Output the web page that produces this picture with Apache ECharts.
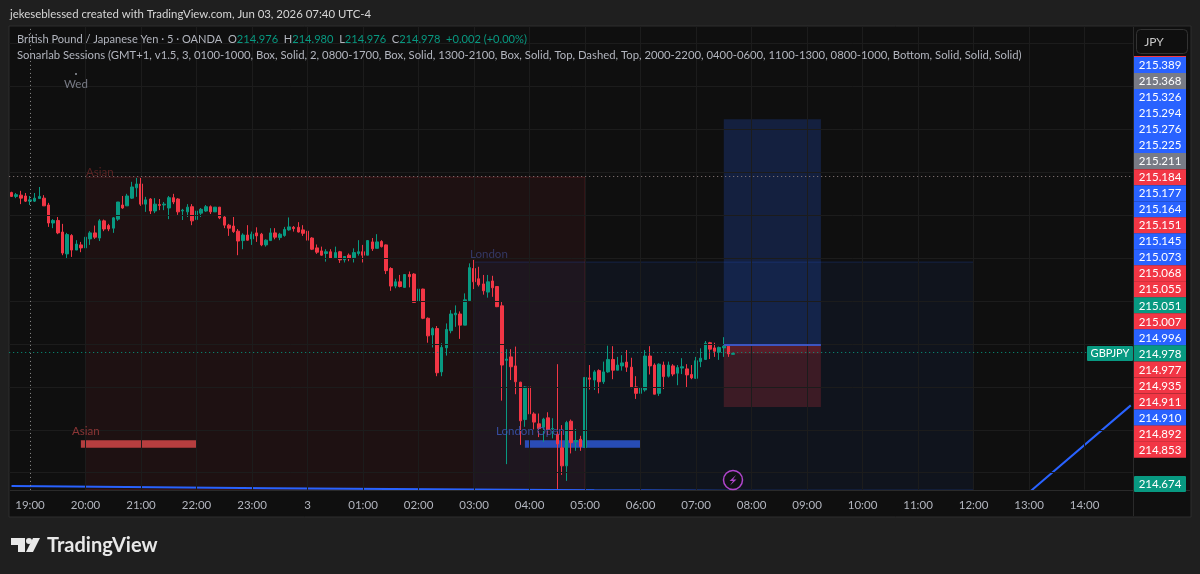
<!DOCTYPE html>
<html>
<head>
<meta charset="utf-8">
<title>GBPJPY</title>
<script src="https://cdn.jsdelivr.net/npm/echarts@6/dist/echarts.min.js"></script>
<style>
html, body { margin: 0; padding: 0; background: #1f1f1f; }
#main { width: 1200px; height: 574px; }
</style>
</head>
<body>
<div id="main"></div>
<script>
// 5 minute bars, 18:40 to 07:40
var opens = [
215.353,215.344,215.347,215.345,215.333,215.333,215.339,215.340,215.324,215.282,
215.288,215.261,215.210,215.253,215.219,215.231,215.224,215.245,215.259,215.247,
215.287,215.276,215.270,215.291,215.324,215.322,215.340,215.364,215.373,215.326,
215.338,215.310,215.325,215.324,215.317,215.341,215.338,215.310,215.308,215.320,
215.290,215.305,215.310,215.320,215.308,215.319,215.296,215.277,215.275,215.263,
215.241,215.254,215.245,215.259,215.256,215.231,215.241,215.259,215.248,215.253,
215.266,215.272,215.272,215.266,215.263,215.247,215.224,215.217,215.211,215.215,
215.201,215.215,215.196,215.207,215.201,215.211,215.215,215.207,215.238,215.223,
215.239,215.231,215.176,215.135,215.145,215.132,215.162,215.163,215.099,215.128,
215.060,215.021,215.036,214.935,214.991,215.031,215.068,215.070,215.044,215.101,
215.176,215.152,215.140,215.121,215.147,215.134,215.089,214.962,214.970,214.949,
214.911,214.824,214.900,214.837,214.814,214.806,214.828,214.802,214.790,214.758,
214.716,214.820,214.772,214.778,214.759,214.921,214.916,214.938,214.912,214.935,
214.964,214.939,214.949,214.958,214.946,214.900,214.885,214.893,214.972,214.951,
214.885,214.951,214.925,214.949,214.932,214.944,214.942,214.929,214.920,214.959,
214.964,215.003,214.991,214.981,214.991,214.995,214.976];
var closes = [
215.344,215.348,215.340,215.333,215.336,215.340,215.344,215.322,215.282,215.288,
215.259,215.212,215.255,215.219,215.233,215.224,215.249,215.259,215.249,215.287,
215.268,215.268,215.294,215.331,215.317,215.345,215.366,215.373,215.326,215.336,
215.310,215.326,215.323,215.326,215.341,215.331,215.308,215.312,215.319,215.287,
215.310,215.314,215.320,215.308,215.319,215.294,215.277,215.270,215.262,215.240,
215.254,215.242,215.256,215.252,215.231,215.242,215.259,215.249,215.256,215.267,
215.273,215.269,215.261,215.258,215.242,215.221,215.214,215.207,215.215,215.200,
215.213,215.196,215.204,215.199,215.213,215.215,215.207,215.241,215.222,215.238,
215.227,215.171,215.135,215.145,215.134,215.162,215.157,215.097,215.128,215.060,
215.019,215.036,214.933,214.992,215.034,215.070,215.072,215.044,215.103,215.178,
215.145,215.138,215.124,215.145,215.131,215.087,214.951,214.965,214.947,214.912,
214.821,214.900,214.837,214.818,214.803,214.825,214.798,214.803,214.767,214.716,
214.817,214.770,214.775,214.761,214.922,214.918,214.935,214.912,214.935,214.964,
214.939,214.951,214.956,214.946,214.899,214.885,214.898,214.972,214.949,214.883,
214.953,214.924,214.951,214.930,214.945,214.947,214.928,214.921,214.961,214.967,
215.002,214.988,214.983,214.992,214.995,214.977,214.978];
var lows = [
215.343,215.340,215.326,215.331,215.324,215.331,215.339,215.322,215.273,215.270,
215.256,215.207,215.198,215.203,215.219,215.214,215.210,215.231,215.245,215.240,
215.263,215.263,215.259,215.287,215.315,215.322,215.338,215.343,215.322,215.308,
215.303,215.305,215.312,215.312,215.291,215.326,215.301,215.289,215.296,215.277,
215.289,215.296,215.308,215.303,215.308,215.291,215.270,215.252,215.259,215.207,
215.221,215.241,215.231,215.238,215.228,215.227,215.241,215.244,215.242,215.250,
215.264,215.262,215.260,215.252,215.235,215.219,215.210,215.206,215.192,215.199,
215.200,215.189,215.190,215.193,215.190,215.206,215.190,215.207,215.217,215.223,
215.225,215.163,215.124,215.130,215.132,215.132,215.132,215.096,215.089,215.058,
215.003,214.992,214.925,214.925,214.973,215.025,215.040,215.012,215.044,215.100,
215.128,215.134,215.115,215.108,215.110,215.086,214.868,214.720,214.916,214.883,
214.765,214.807,214.831,214.801,214.783,214.772,214.788,214.780,214.661,214.695,
214.681,214.745,214.751,214.751,214.759,214.894,214.893,214.885,214.907,214.933,
214.918,214.939,214.938,214.935,214.897,214.872,214.860,214.889,214.929,214.883,
214.879,214.895,214.922,214.925,214.904,214.930,214.898,214.918,214.919,214.946,
214.963,214.965,214.970,214.963,214.970,214.970,214.976];
var highs = [
215.355,215.352,215.357,215.352,215.345,215.352,215.366,215.347,215.329,215.291,
215.296,215.280,215.259,215.256,215.242,215.238,215.252,215.263,215.276,215.291,
215.290,215.280,215.296,215.331,215.345,215.350,215.378,215.387,215.387,215.343,
215.340,215.340,215.338,215.331,215.345,215.350,215.340,215.315,215.326,215.326,
215.319,215.317,215.324,215.323,215.319,215.319,215.298,215.280,215.296,215.268,
215.258,215.277,215.262,215.272,215.259,215.244,215.270,215.270,215.259,215.273,
215.295,215.275,215.284,215.277,215.264,215.249,215.232,215.227,215.221,215.221,
215.227,215.217,215.205,215.211,215.223,215.242,215.231,215.242,215.247,215.256,
215.242,215.232,215.179,215.152,215.161,215.163,215.169,215.165,215.141,215.129,
215.062,215.039,215.042,215.002,215.048,215.079,215.090,215.076,215.118,215.188,
215.196,215.180,215.161,215.161,215.159,215.135,215.099,214.988,214.988,214.994,
214.912,214.902,214.902,214.841,214.838,214.828,214.841,214.827,214.953,214.811,
214.821,214.824,214.802,214.786,214.922,214.951,214.939,214.941,214.959,214.996,
214.995,214.970,214.974,214.986,214.968,214.925,214.900,214.986,214.995,214.955,
214.955,214.959,214.959,214.953,214.951,214.967,214.953,214.951,214.970,214.990,
215.007,215.005,215.003,214.994,215.016,215.000,214.980];

var gridPrices = [214.7,214.8,214.9,215,215.1,215.2,215.3,215.4,215.5,215.6,215.7];

// the moving average that runs off the bottom of the pane
var avgTimes = ['18:40','23:20','05:10','13:00','14:50'];
var avgValues = [214.669,214.664,214.659,214.654,214.857];

var tagValues = ['215.389','215.368','215.326','215.294','215.276','215.225','215.211','215.184','215.177','215.164','215.151','215.145','215.073','215.068','215.055','215.051','215.007','214.996','214.978','214.977','214.935','214.911','214.910','214.892','214.853'];
var tagColors = ['blue','gray','blue','blue','blue','blue','gray','red','blue','blue','red','blue','blue','red','red','green','red','blue','green','red','red','red','blue','red','red'];

var palette = { blue: '#2962ff', gray: '#787b86', red: '#f23645', green: '#089981' };
var fontName = 'Lato, "Noto Sans", sans-serif';

// x axis is one band per 5 minutes
var times = [];
for (var m = 18 * 60 + 40; times.length < 243; m += 5) {
    var hh = Math.floor(m / 60) % 24, mm = m % 60;
    times.push((hh < 10 ? '0' : '') + hh + ':' + (mm < 10 ? '0' : '') + mm);
}
var hours = times.filter(function (t) { return /:00$/.test(t) && t !== '19:00'; });

var candles = opens.map(function (o, i) {
    return [o, closes[i], lows[i], highs[i]];
});

var priceMin = 214.66, priceMax = 215.74;

function box(x1, x2, top, bottom, fill, border) {
    return [{
        xAxis: x1, yAxis: top,
        itemStyle: { color: fill, borderColor: border || 'transparent', borderWidth: border ? 1 : 0 }
    }, { xAxis: x2, yAxis: bottom }];
}

function text(x, y, str, size, color, extra) {
    var style = { x: x, y: y, text: str, fill: color, font: size + 'px ' + fontName, textVerticalAlign: 'middle' };
    for (var k in (extra || {})) style[k] = extra[k];
    return { type: 'text', z: 50, silent: true, style: style };
}

var graphics = [
    { type: 'rect', z: -10, silent: true, shape: { x: 9, y: 26, width: 1182, height: 491 }, style: { fill: '#0f0f0f', stroke: '#2e2e2e', lineWidth: 1 } },
    { type: 'line', z: 40, silent: true, shape: { x1: 1133.5, y1: 27, x2: 1133.5, y2: 516 }, style: { stroke: '#2a2a2a', lineWidth: 1 } },
    { type: 'line', z: 40, silent: true, shape: { x1: 10, y1: 490.5, x2: 1190, y2: 490.5 }, style: { stroke: '#2a2a2a', lineWidth: 1 } },
    text(10, 14, 'jekeseblessed created with TradingView.com, Jun 03, 2026 07:40 UTC-4', 11.4, '#d6d6d6'),
    text(17, 39, '{g|British Pound / Japanese Yen · 5 · OANDA  O}{v|214.976}{g|  H}{v|214.980}{g|  L}{v|214.976}{g|  C}{v|214.978  +0.002 (+0.00%)}', 11.1, '#b2b5be', {
        rich: {
            g: { fill: '#b2b5be', font: '11.1px ' + fontName },
            v: { fill: '#089981', font: '11.1px ' + fontName }
        }
    }),
    text(17, 55, 'Sonarlab Sessions (GMT+1, v1.5, 3, 0100-1000, Box, Solid, 2, 0800-1700, Box, Solid, 1300-2100, Box, Solid, Top, Dashed, Top, 2000-2200, 0400-0600, 1100-1300, 0800-1000, Bottom, Solid, Solid, Solid)', 11.3, '#b2b5be'),
    { type: 'circle', z: 50, silent: true, shape: { cx: 76, cy: 74, r: 1 }, style: { fill: '#9598a1' } },
    text(76, 84, 'Wed', 11.5, '#787b86', { textAlign: 'center' }),
    text(86, 172, 'Asian', 11.5, 'rgba(150,50,50,0.55)'),
    text(470, 254.5, 'London', 11.5, 'rgba(70,90,170,0.55)'),
    text(72, 431, 'Asian', 11.5, '#8a3535'),
    text(496, 431, 'London Open', 11.5, 'rgba(60,90,190,0.8)'),
    // JPY button
    { type: 'rect', z: 50, silent: true, shape: { x: 1136.5, y: 29.5, width: 51, height: 24, r: 4 }, style: { fill: '#0f0f0f', stroke: '#333333', lineWidth: 1 } },
    text(1154, 42, 'JPY', 12, '#c8c8c8', { textAlign: 'center' }),
    // current price tag
    { type: 'rect', z: 50, silent: true, shape: { x: 1087, y: 346, width: 46, height: 15, r: 1 }, style: { fill: '#089981' } },
    text(1110, 353.5, 'GBPJPY', 11, '#ffffff', { textAlign: 'center' }),
    // lightning badge
    { type: 'circle', z: 50, silent: true, shape: { cx: 733, cy: 480, r: 9.5 }, style: { fill: 'rgba(15,15,15,0.6)', stroke: '#b045cc', lineWidth: 1.5 } },
    { type: 'polygon', z: 51, silent: true, shape: { points: [[736, 475], [729.5, 481], [733, 481], [730, 485.5], [736.5, 479.5], [733, 479.5]] }, style: { fill: '#b045cc' } },
    // logo
    { type: 'polygon', z: 50, silent: true, shape: { points: [[11, 538], [25, 538], [25, 552], [18, 552], [18, 545], [11, 545]] }, style: { fill: '#e8e8e8' } },
    { type: 'circle', z: 50, silent: true, shape: { cx: 29, cy: 541, r: 3 }, style: { fill: '#e8e8e8' } },
    { type: 'polygon', z: 50, silent: true, shape: { points: [[33, 538], [40, 538], [33, 552], [26, 552]] }, style: { fill: '#e8e8e8' } },
    text(47, 546, 'TradingView', 20, '#e8e8e8', { font: 'bold 20px ' + fontName }),
    // red tag hidden under the stack
    { type: 'rect', z: 44, silent: true, shape: { x: 1134, y: 56, width: 52, height: 2 }, style: { fill: '#f23645' } }
];

tagValues.forEach(function (v, i) {
    var y = 65 + 16.02 * i;
    graphics.push({ type: 'rect', z: 45, silent: true, shape: { x: 1134, y: y - 8, width: 52, height: 16.2 }, style: { fill: palette[tagColors[i]] } });
    graphics.push(text(1160, y + 0.5, v, 11.5, '#ffffff', { textAlign: 'center' }));
});
graphics.push({ type: 'rect', z: 45, silent: true, shape: { x: 1134, y: 476, width: 52, height: 16, r: 1 }, style: { fill: '#089981' } });
graphics.push(text(1160, 484, '214.674', 11.5, '#ffffff', { textAlign: 'center' }));

var myChart = echarts.init(document.getElementById('main'), null, { renderer: 'canvas' });
var option = {
    animation: false,
    backgroundColor: '#1f1f1f',
    graphic: graphics,
    grid: { left: 9.2, top: 26.5, width: 1123.9, height: 463.4, containLabel: false },
    xAxis: {
        type: 'category',
        data: times,
        boundaryGap: true,
        axisLine: { show: false },
        axisTick: { show: false },
        splitLine: { show: false },
        axisLabel: {
            interval: function (i, v) { return /:00$/.test(v); },
            formatter: function (v) { return v === '00:00' ? '3' : v; },
            color: '#b2b5be',
            fontSize: 11.5,
            fontFamily: fontName,
            margin: 9,
            hideOverlap: false
        }
    },
    yAxis: {
        type: 'value',
        min: priceMin,
        max: priceMax,
        show: false,
        splitLine: { show: false }
    },
    series: [
        {
            // session boxes and grid sit under the bars
            type: 'line',
            z: 1,
            data: [],
            silent: true,
            markLine: {
                silent: true, symbol: 'none', label: { show: false },
                lineStyle: { color: '#1c1c1c', width: 1, type: 'solid' },
                data: gridPrices.map(function (p) { return { yAxis: p }; })
                    .concat(hours.map(function (t) { return { xAxis: t }; }))
            },
            markArea: {
                silent: true,
                data: [
                    box('20:00', '05:00', 215.389, priceMin, 'rgba(242,54,69,0.07)', 'rgba(242,54,69,0.2)'),
                    box('03:00', '12:00', 215.191, priceMin, 'rgba(41,98,255,0.06)', 'rgba(41,98,255,0.2)'),
                    box('07:30', '09:15', 215.524, 214.996, 'rgba(41,98,255,0.2)'),
                    box('07:30', '09:15', 214.996, 214.853, 'rgba(242,54,69,0.2)'),
                    box('07:30', '09:15', 214.996, 214.978, 'rgba(242,54,69,0.15)')
                ]
            }
        },
        {
            type: 'candlestick',
            z: 2,
            data: candles,
            barWidth: 3,
            itemStyle: {
                color: '#089981', color0: '#f23645',
                borderColor: '#089981', borderColor0: '#f23645', borderWidth: 1
            }
        },
        {
            type: 'line',
            z: 3,
            data: [],
            silent: true,
            markLine: {
                silent: true, symbol: 'none', label: { show: false },
                data: [
                    { xAxis: '19:00', lineStyle: { color: '#8f8f8f', type: [1, 3], width: 1 } },
                    { yAxis: 215.389, lineStyle: { color: '#8f7f7f', type: [1, 3], width: 1 } },
                    { yAxis: 214.978, lineStyle: { color: '#089981', type: [1, 3], width: 1 } },
                    [
                        { xAxis: '07:30', yAxis: 214.998, lineStyle: { color: '#3d55c0', type: 'solid', width: 2 } },
                        { xAxis: '09:15', yAxis: 214.998 }
                    ]
                ]
            },
            markArea: {
                silent: true,
                data: [
                    box('19:55', '22:00', 214.776, 214.758, 'rgba(242,80,80,0.72)'),
                    box('03:55', '06:00', 214.776, 214.758, 'rgba(45,90,220,0.8)')
                ]
            }
        },
        {
            type: 'line',
            z: 4,
            data: avgTimes.map(function (t, i) { return [t, avgValues[i]]; }),
            showSymbol: false,
            silent: true,
            clip: true,
            lineStyle: { color: '#2962ff', width: 2 }
        }
    ]
};
myChart.setOption(option);
</script>
</body>
</html>
